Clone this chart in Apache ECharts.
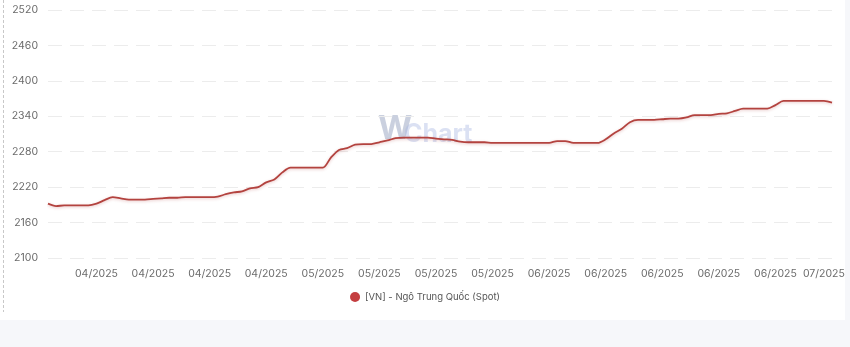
<!DOCTYPE html>
<html>
<head>
<meta charset="utf-8">
<script src="https://cdn.jsdelivr.net/npm/echarts@6/dist/echarts.min.js"></script>
<style>
  html, body { margin: 0; padding: 0; background: #ffffff; }
  #chart { width: 850px; height: 347px; }
</style>
</head>
<body>
<div id="chart"></div>
<script>
// Daily spot price of Chinese corn in Vietnam, 2025-04-01 .. 2025-07-07
const startDate = '2025-04-01';
const endDate = '2025-07-07';

const prices = [
  2192, 2188, 2189, 2189, 2189, 2189, 2192, 2198, 2203, 2201,
  2199, 2199, 2199, 2200, 2201, 2202, 2202, 2203, 2203, 2203,
  2203, 2204, 2208, 2211, 2213, 2218, 2220, 2228, 2233, 2245,
  2253, 2253, 2253, 2253, 2253, 2270, 2283, 2286, 2292, 2293,
  2293, 2296, 2299, 2303, 2304, 2304, 2304, 2304, 2302, 2301,
  2300, 2297, 2296, 2296, 2296, 2295, 2295, 2295, 2295, 2295,
  2295, 2295, 2295, 2298, 2298, 2295, 2295, 2295, 2295, 2301,
  2311, 2319, 2330, 2334, 2334, 2334, 2335, 2336, 2336, 2338,
  2342, 2342, 2342, 2344, 2345, 2349, 2353, 2353, 2353, 2353,
  2359, 2366, 2366, 2366, 2366, 2366, 2366, 2363
];

// Dates that carry an x-axis label (weekly, plus the closing month)
const labelDates = [
  '2025-04-07', '2025-04-14', '2025-04-21', '2025-04-28',
  '2025-05-05', '2025-05-12', '2025-05-19', '2025-05-26',
  '2025-06-02', '2025-06-09', '2025-06-16', '2025-06-23', '2025-06-30',
  '2025-07-06'
];

const yTicks = [2100, 2160, 2220, 2280, 2340, 2400, 2460, 2520];
const seriesName = '[VN] - Ngô Trung Quốc (Spot)';

function buildDates(from, to) {
  const out = [];
  const d = new Date(from + 'T00:00:00Z');
  const end = new Date(to + 'T00:00:00Z');
  while (d <= end) {
    out.push(d.toISOString().slice(0, 10));
    d.setUTCDate(d.getUTCDate() + 1);
  }
  return out;
}
const dates = buildDates(startDate, endDate);
const labelSet = new Set(labelDates);

const chart = echarts.init(document.getElementById('chart'), null, { renderer: 'canvas' });

const font = 'Inter, Roboto, sans-serif';

chart.setOption({
  backgroundColor: '#ffffff',
  animation: false,
  textStyle: { fontFamily: font },
  graphic: [
    // page background strips around the card
    { type: 'rect', shape: { x: 0, y: 320, width: 850, height: 27 }, style: { fill: '#f6f7fa' }, z: -10, silent: true },
    { type: 'rect', shape: { x: 845, y: 0, width: 5, height: 347 }, style: { fill: '#f6f7fa' }, z: -10, silent: true },
    // dashed card edge on the left
    { type: 'line', shape: { x1: 3.5, y1: 0, x2: 3.5, y2: 312 }, style: { stroke: '#c8c8c8', lineWidth: 1, lineDash: [3, 2] }, silent: true },
    // watermark
    { type: 'text', left: 378, top: 113, z: 0, silent: true,
      style: { text: 'W', fill: 'rgba(150,162,192,0.5)', font: 'bold 33px ' + font } },
    { type: 'text', left: 404, top: 122, z: 0, silent: true,
      style: { text: 'Chart', fill: 'rgba(165,180,225,0.4)', font: 'bold 25px ' + font } }
  ],
  grid: { left: 48, right: 18, top: 10, bottom: 89, containLabel: false },
  legend: {
    data: [seriesName],
    left: 'center',
    top: 287,
    icon: 'circle',
    itemWidth: 10,
    itemHeight: 10,
    itemGap: 8,
    textStyle: { color: '#555', fontSize: 9.5, fontFamily: font }
  },
  xAxis: {
    type: 'category',
    data: dates,
    boundaryGap: false,
    axisLine: { show: false },
    axisTick: { show: false },
    splitLine: { show: false },
    axisLabel: {
      color: '#6b6b6b',
      fontSize: 10.5,
      margin: 10,
      fontFamily: font,
      interval: (idx, val) => labelSet.has(val),
      formatter: (val) => val.slice(5, 7) + '/' + val.slice(0, 4)
    }
  },
  yAxis: {
    type: 'value',
    min: yTicks[0],
    max: yTicks[yTicks.length - 1],
    interval: yTicks[1] - yTicks[0],
    axisLine: { show: false },
    axisTick: { show: false },
    axisLabel: { color: '#6b6b6b', fontSize: 10.5, margin: 10, fontFamily: font, formatter: (v) => String(v) },
    splitLine: { lineStyle: { color: '#ececec', type: [14, 8], width: 1 } }
  },
  series: [{
    name: seriesName,
    type: 'line',
    data: prices,
    smooth: 0.3,
    symbol: 'none',
    color: '#c43e40',
    lineStyle: {
      color: '#b3433f',
      width: 1.8,
      shadowColor: 'rgba(176,64,63,0.3)',
      shadowBlur: 3,
      shadowOffsetY: 1
    },
    z: 3
  }]
});
</script>
</body>
</html>
